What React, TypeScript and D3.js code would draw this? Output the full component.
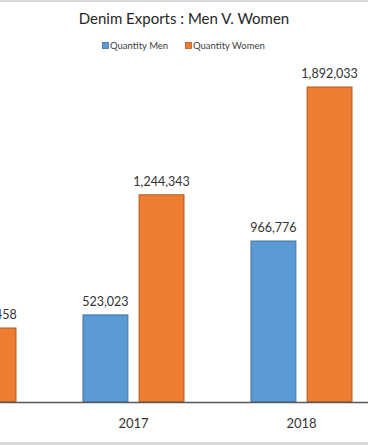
import * as d3 from "d3";
import { useEffect, useRef } from "react";

// chart data
const years = ["2016", "2017", "2018"];
const series = ["Quantity Men", "Quantity Women"];
const men = [262148, 523023, 966776];
const women = [444458, 1244343, 1892033];
const colors = ["#5b9bd5", "#ed7d31"];
const strokes = ["#41719c", "#ae5a21"];

function App() {
    const ref = useRef<SVGSVGElement>(null);

    useEffect(() => {
        const width = 368,
            height = 445;
        const font = "Lato, 'Open Sans', sans-serif";

        const svg = d3.select(ref.current);
        svg.selectAll("*").remove();

        svg.append("rect").attr("width", width).attr("height", height).attr("fill", "#fff");
        // frame bands top / bottom
        svg.append("rect").attr("x", 0).attr("y", 0).attr("width", width).attr("height", 2).attr("fill", "#d9d9d9");
        svg.append("rect").attr("x", 0).attr("y", 442).attr("width", width).attr("height", 3).attr("fill", "#d9d9d9");

        // title
        svg.append("text")
            .attr("x", 184)
            .attr("y", 24)
            .attr("text-anchor", "middle")
            .style("font-family", font)
            .style("font-size", "15px")
            .attr("fill", "#262626")
            .text("Denim Exports : Men V. Women");

        // legend
        const legendX = [102, 185];
        series.forEach((name, i) => {
            const g = svg.append("g").attr("transform", "translate(" + legendX[i] + ",46)");
            g.append("rect")
                .attr("x", 0.5)
                .attr("y", -3.5)
                .attr("width", 6)
                .attr("height", 6)
                .attr("fill", colors[i])
                .attr("stroke", strokes[i])
                .attr("stroke-width", 0.8);
            g.append("text")
                .attr("x", 8)
                .attr("y", 3)
                .style("font-family", font)
                .style("font-size", "9.5px")
                .attr("fill", "#404040")
                .text(name);
        });

        const x = d3.scaleBand().domain(years).range([-118.5, 385.5]).paddingInner(0).paddingOuter(0);
        const xInner = d3.scaleBand().domain(series).range([33.5, 134.5]).paddingInner(0.2).paddingOuter(0);
        const y = d3.scaleLinear().domain([0, 2000000]).range([402, 69]);

        const fmt = d3.format(",");
        const rows = years.map((yr, i) => ({ year: yr, values: [men[i], women[i]] }));

        const groups = svg
            .selectAll("g.year")
            .data(rows)
            .enter()
            .append("g")
            .attr("class", "year")
            .attr("transform", (d) => "translate(" + x(d.year) + ",0)");

        groups.each(function (d) {
            const g = d3.select(this);
            d.values.forEach((v, i) => {
                const bx = xInner(series[i]) as number;
                g.append("rect")
                    .attr("x", bx)
                    .attr("y", y(v))
                    .attr("width", xInner.bandwidth())
                    .attr("height", y(0) - y(v))
                    .attr("fill", colors[i])
                    .attr("stroke", strokes[i])
                    .attr("stroke-width", 1);
                g.append("text")
                    .attr("x", bx + xInner.bandwidth() / 2)
                    .attr("y", y(v) - 9)
                    .attr("text-anchor", "middle")
                    .style("font-family", font)
                    .style("font-size", "12.5px")
                    .attr("fill", "#333")
                    .text(fmt(v));
            });
        });

        // x axis baseline + category labels
        svg.append("line")
            .attr("x1", 0)
            .attr("x2", width)
            .attr("y1", y(0) + 0.5)
            .attr("y2", y(0) + 0.5)
            .attr("stroke", "#595959")
            .attr("stroke-width", 1.5);

        svg.selectAll("text.cat")
            .data(years)
            .enter()
            .append("text")
            .attr("class", "cat")
            .attr("x", (d) => (x(d) as number) + x.bandwidth() / 2)
            .attr("y", 428)
            .attr("text-anchor", "middle")
            .style("font-family", font)
            .style("font-size", "13px")
            .attr("fill", "#333")
            .text((d) => d);
    }, []);

    return (
        <svg
            ref={ref}
            width={368}
            height={445}
            style={{ position: "absolute", left: 0, top: 0, display: "block" }}
        ></svg>
    );
}

export default App;
